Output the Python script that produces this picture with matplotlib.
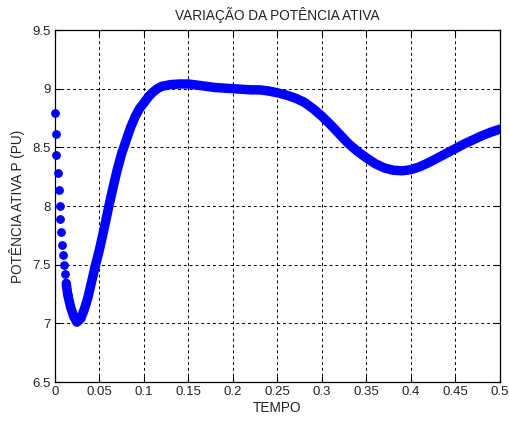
import matplotlib
matplotlib.use("Agg")
import matplotlib.pyplot as plt

plt.rcParams['font.family'] = ['Liberation Sans', 'DejaVu Sans']

# tempo (s) e potencia ativa (pu)
tempo = [0.0, 0.0006, 0.0017, 0.0031, 0.0043, 0.0051, 0.0062, 0.0070, 0.0076,
         0.0088, 0.0099, 0.0115, 0.0126, 0.0144, 0.0175, 0.0212, 0.0246,
         0.029, 0.033, 0.037, 0.041, 0.045, 0.050, 0.055, 0.060, 0.065,
         0.070, 0.075, 0.080, 0.085, 0.090, 0.095, 0.100, 0.105, 0.110,
         0.115, 0.120, 0.130, 0.140, 0.150, 0.160, 0.170, 0.180, 0.190,
         0.200, 0.210, 0.220, 0.230, 0.240, 0.250, 0.260, 0.270, 0.280,
         0.290, 0.300, 0.310, 0.320, 0.330, 0.340, 0.350, 0.360, 0.370,
         0.380, 0.390, 0.400, 0.410, 0.420, 0.430, 0.440, 0.450, 0.460,
         0.470, 0.480, 0.490, 0.500]
potencia = [8.79, 8.61, 8.435, 8.28, 8.14, 8.00, 7.89, 7.78, 7.67,
            7.58, 7.50, 7.42, 7.34, 7.24, 7.14, 7.056, 7.01,
            7.04, 7.12, 7.22, 7.35, 7.48, 7.63, 7.80, 7.98, 8.15,
            8.31, 8.45, 8.56, 8.67, 8.76, 8.83, 8.88, 8.93, 8.97,
            9.00, 9.02, 9.035, 9.04, 9.04, 9.03, 9.02, 9.01, 9.005,
            9.00, 8.995, 8.99, 8.99, 8.98, 8.965, 8.945, 8.92, 8.885,
            8.83, 8.765, 8.69, 8.61, 8.53, 8.465, 8.41, 8.36, 8.325,
            8.305, 8.30, 8.31, 8.335, 8.37, 8.41, 8.45, 8.49, 8.53,
            8.565, 8.60, 8.63, 8.655]

xticks = [0, 0.05, 0.1, 0.15, 0.2, 0.25, 0.3, 0.35, 0.4, 0.45, 0.5]
xticklabels = ['0', '0.05', '0.1', '0.15', '0.2', '0.25', '0.3', '0.35', '0.4', '0.45', '0.5']
yticks = [6.5, 7, 7.5, 8, 8.5, 9, 9.5]
yticklabels = ['6.5', '7', '7.5', '8', '8.5', '9', '9.5']

fig = plt.figure(figsize=(5.1, 4.21), dpi=100)
ax = fig.add_axes([0.1078, 0.0926, 0.8725, 0.8361])

# trecho denso vira uma faixa continua, os primeiros pontos ficam soltos
ax.plot(tempo[12:], potencia[12:], color='#0000ff', lw=6.8,
        solid_capstyle='round', solid_joinstyle='round', zorder=3)
ax.plot(tempo[:14], potencia[:14], 'o', color='#0000ff', ms=5.3, mec='#0000ff',
        zorder=4, clip_on=False)

ax.set_xlim(0, 0.5)
ax.set_ylim(6.5, 9.5)
ax.set_xticks(xticks)
ax.set_xticklabels(xticklabels)
ax.set_yticks(yticks)
ax.set_yticklabels(yticklabels)
ax.tick_params(direction='in', length=4, width=0.8, labelsize=9.5,
               top=True, right=True, pad=3, colors='black', labelcolor='#222222')
ax.grid(True, color='black', linestyle=(0, (3, 3)), linewidth=0.7)
for s in ax.spines.values():
    s.set_linewidth(0.9)

ax.set_title('VARIAÇÃO DA POTÊNCIA ATIVA', fontsize=9.8, pad=7, color='#222222')
ax.set_xlabel('TEMPO', fontsize=9.8, labelpad=2, color='#222222')
ax.set_ylabel('POTÊNCIA ATIVA P (PU)', fontsize=9.8, labelpad=5, color='#222222')

fig.savefig('out.png', dpi=100)
